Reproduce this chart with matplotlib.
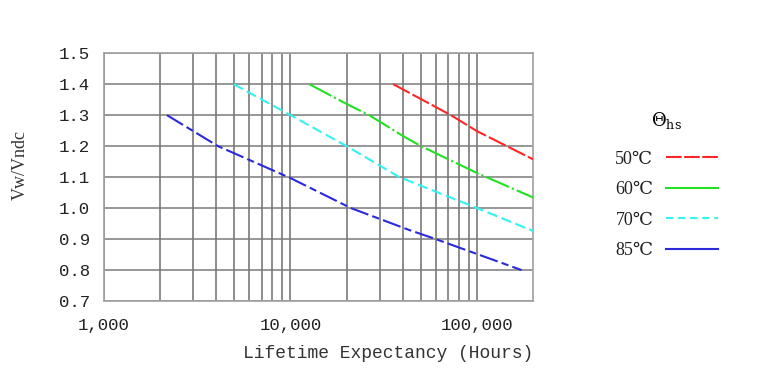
"""Lifetime expectancy vs. voltage ratio chart"""

import matplotlib
matplotlib.use('Agg')
import matplotlib.pyplot as plt
from matplotlib.lines import Line2D
from matplotlib.ticker import FixedLocator, NullFormatter

# hours / Vw-Vndc
hours_50 = [35500, 72300, 100000, 200000]
ratio_50 = [1.40, 1.30, 1.248, 1.157]
hours_60 = [12600, 20000, 26400, 40000, 50000, 100000, 200000]
ratio_60 = [1.40, 1.336, 1.30, 1.233, 1.20, 1.113, 1.034]
hours_70 = [4960, 10000, 20000, 38300, 100000, 200000]
ratio_70 = [1.40, 1.30, 1.20, 1.10, 1.00, 0.926]
hours_85 = [2180, 4090, 10000, 21100, 43000, 60000, 173000]
ratio_85 = [1.30, 1.20, 1.097, 1.00, 0.93, 0.90, 0.80]

labels = ['50℃', '60℃', '70℃', '85℃']
colors = ['#ff2626', '#22e022', '#33f2f2', '#2a2ad8']
y_ticks = [0.7, 0.8, 0.9, 1.0, 1.1, 1.2, 1.3, 1.4, 1.5]
x_ticks = [1000, 10000, 100000]
x_ticklabels = ['1,000', '10,000', '100,000']

mono = 'Liberation Mono'
serif = ['Liberation Serif', 'DejaVu Serif']
plt.rcParams['mathtext.fontset'] = 'dejavuserif'

fig = plt.figure(figsize=(7.63, 3.88), dpi=100)
ax = fig.add_axes([0.136, 0.224, 0.563, 0.639])

series = [(hours_50, ratio_50), (hours_60, ratio_60),
          (hours_70, ratio_70), (hours_85, ratio_85)]
dashes = [(9, 1.5), (12, 1.5, 1, 1.5), (5, 2.2), (9, 2, 3.5, 2)]
for (h, r), c, d in zip(series, colors, dashes):
    ax.plot(h, r, color=c, lw=1.5, dashes=d, zorder=3)

ax.set_xscale('log')
ax.set_xlim(1000, 200000)
ax.set_ylim(0.7, 1.5)

minor = [m * 10 ** e for e in (3, 4, 5) for m in range(2, 10) if m * 10 ** e < 200000]
ax.xaxis.set_major_locator(FixedLocator(x_ticks))
ax.xaxis.set_minor_locator(FixedLocator(minor))
ax.xaxis.set_minor_formatter(NullFormatter())
ax.set_xticklabels(x_ticklabels, fontfamily=mono, fontsize=12.5)
ax.set_yticks(y_ticks)
ax.set_yticklabels([f'{v:.1f}' for v in y_ticks], fontfamily=mono, fontsize=12.5)
ax.tick_params(which='both', length=0, colors='#222222')
ax.tick_params(axis='x', pad=12)
ax.tick_params(axis='y', pad=10)

ax.grid(True, which='both', axis='x', color='#6e6e6e', lw=1.1)
ax.grid(True, which='major', axis='y', color='#7a7a7a', lw=1.1)
for s in ax.spines.values():
    s.set_color('#a0a0a0')
    s.set_linewidth(1.2)

ax.set_xlabel('Lifetime Expectancy (Hours)', fontfamily=mono, fontsize=13,
              color='#333333', loc='right', labelpad=9)
ax.set_ylabel('Vw/Vndc', fontfamily=serif, fontsize=13, color='#333333')
ax.yaxis.set_label_coords(-0.175, 0.55)

handles = [Line2D([], [], color=colors[0], lw=1.5, dashes=(7.5, 1.2)),
           Line2D([], [], color=colors[1], lw=1.5),
           Line2D([], [], color=colors[2], lw=1.5, dashes=(3.5, 2.3)),
           Line2D([], [], color=colors[3], lw=1.5)]
leg = fig.legend(handles, labels, loc='center', bbox_to_anchor=(0.874, 0.524),
                 frameon=False, markerfirst=False, handlelength=2.9,
                 handletextpad=0.7, labelspacing=0.75,
                 title=r'$\Theta_{\rm hs}$', title_fontsize=13,
                 prop={'family': serif, 'size': 13})
for t in leg.get_texts():
    t.set_color('#222222')
leg._legend_box.sep = 14

fig.savefig('out.png', dpi=100)
